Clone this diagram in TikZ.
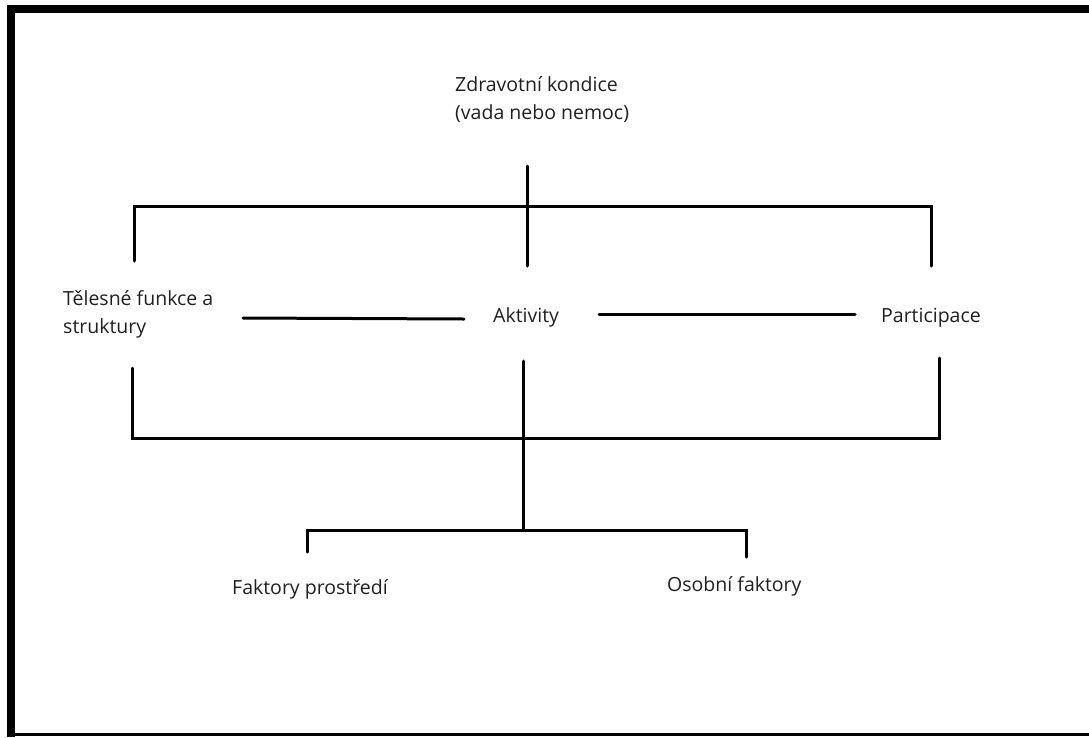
\documentclass[tikz,border=0pt]{standalone}
\usepackage{fontspec}
\setmainfont{Open Sans}
\begin{document}
\begin{tikzpicture}[x=1pt,y=-1pt,
  lbl/.style={anchor=base west,inner sep=0pt,text=black!88,font=\fontsize{19.5}{28}\selectfont,align=left},
  conn/.style={line width=3pt,line cap=round,black},
  frame/.style={line width=8pt,black}]
\useasboundingbox (0,0) rectangle (1089,737);
% frame
\draw[frame] (11,737) -- (11,9) -- (1089,9);
\draw[line width=3pt,black] (7,734.5) -- (1089,734.5);
% labels (base anchor = baseline of last line)
\node[lbl] (zk) at (455,119) {Zdravotní kondice\\(vada nebo nemoc)};
\node[lbl] (tf) at (63,333) {Tělesné funkce a\\struktury};
\node[lbl] (ak) at (493,322) {Aktivity};
\node[lbl] (pa) at (881,322) {Participace};
\node[lbl] (fp) at (232,594) {Faktory prostředí};
\node[lbl] (of) at (667,591) {Osobní faktory};
% coordinates
\coordinate (st1) at (527,166);
\coordinate (st2) at (527,266);
\coordinate (tl) at (134,206);
\coordinate (tld) at (134,261);
\coordinate (tr) at (931,206);
\coordinate (trd) at (931,266);
\coordinate (a1) at (243,318);
\coordinate (a2) at (464,319);
\coordinate (b1) at (599,314);
\coordinate (b2) at (855,314);
\coordinate (blu) at (132,368);
\coordinate (bl) at (132,438);
\coordinate (bru) at (939,358);
\coordinate (br) at (939,438);
\coordinate (m1) at (523,361);
\coordinate (m2) at (523,530);
\coordinate (ll) at (307,530);
\coordinate (lld) at (307,552);
\coordinate (lr) at (746,530);
\coordinate (lrd) at (746,557);
% connectors
\draw[conn] (st1) -- (st2);
\draw[conn] (tld) -- (tl) -- (tr) -- (trd);
\draw[conn] (a1) -- (a2);
\draw[conn] (b1) -- (b2);
\draw[conn] (blu) -- (bl) -- (br) -- (bru);
\draw[conn] (m1) -- (m2);
\draw[conn] (lld) -- (ll) -- (lr) -- (lrd);
\end{tikzpicture}
\end{document}
